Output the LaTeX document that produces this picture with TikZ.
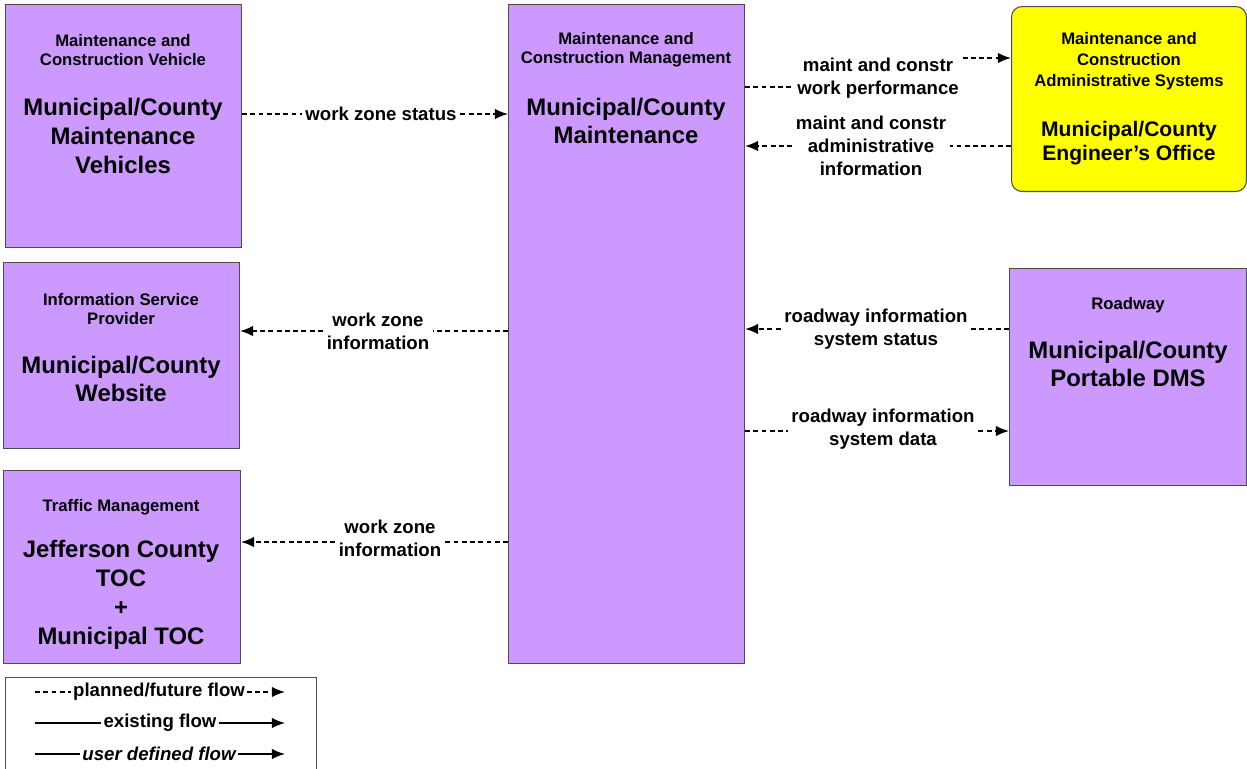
\documentclass[tikz,border=0pt]{standalone}
\usepackage{fontspec}
\setmainfont{Liberation Sans}
\usetikzlibrary{arrows.meta}
\definecolor{elempurple}{HTML}{CC99FF}
\definecolor{elemyellow}{HTML}{FFFF00}

\begin{document}
\begin{tikzpicture}[x=0.02cm, y=-0.02cm]

        % Page frame (pixel units, y downwards)
        \useasboundingbox (0,0) rectangle (1247,768);

        \tikzset{
            element/.style={draw=black!70, line width=0.6pt, fill=elempurple, anchor=north west, inner sep=0pt},
            hdr/.style={font=\fontsize{9.5}{10.9}\selectfont\bfseries, align=center},
            ttl/.style={font=\fontsize{13.6}{16.4}\selectfont\bfseries, align=center},
            flowlbl/.style={font=\fontsize{10.6}{13}\selectfont\bfseries, align=center, inner sep=2pt},
            planned/.style={line width=0.9pt, dash pattern=on 2.8pt off 1.9pt},
            existing/.style={line width=0.9pt},
            tip/.style={-{Latex[length=7.5pt, width=6pt]}}
        }

        % 1. Element boxes
        \node[element, minimum width=4.72cm, minimum height=4.86cm] (veh) at (5,4) {};
        \node[element, minimum width=4.72cm, minimum height=3.72cm] (isp) at (3,262) {};
        \node[element, minimum width=4.74cm, minimum height=3.86cm] (toc) at (3,470) {};
        \node[element, minimum width=4.72cm, minimum height=13.18cm] (mgmt) at (508,4) {};
        \node[element, fill=elemyellow, rounded corners=6pt, minimum width=4.70cm, minimum height=3.70cm] (eng) at (1011,6) {};
        \node[element, minimum width=4.74cm, minimum height=4.34cm] (road) at (1009,268) {};

        % 2. Box texts
        \node[hdr] (vehH) at (123,50) {Maintenance and\\Construction Vehicle};
        \node[ttl] (vehT) at (123,136) {Municipal/County\\Maintenance\\Vehicles};

        \node[hdr] (ispH) at (121,309) {Information Service\\Provider};
        \node[ttl] (ispT) at (121,379) {Municipal/County\\Website};

        \node[hdr] (tocH) at (121,507) {Traffic Management};
        \node[ttl] (tocT) at (121,595) {Jefferson County\\TOC\\+\\Municipal TOC};

        \node[hdr] (mgmtH) at (626,50) {Maintenance and\\Construction Management};
        \node[ttl] (mgmtT) at (626,121) {Municipal/County\\Maintenance};

        \node[hdr, font=\fontsize{9.5}{11.8}\selectfont\bfseries] (engH) at (1129,61) {Maintenance and\\Construction\\Administrative Systems};
        \node[ttl, font=\fontsize{12}{13.6}\selectfont\bfseries] (engT) at (1129,143) {Municipal/County\\Engineer’s Office};

        \node[hdr] (roadH) at (1128,305) {Roadway};
        \node[ttl] (roadT) at (1128,364) {Municipal/County\\Portable DMS};

        % 3. Flow labels
        \node[flowlbl] (wzs) at (381,114) {work zone status};
        \node[flowlbl] (perf) at (878,78) {maint and constr\\work performance};
        \node[flowlbl] (admin) at (871,146) {maint and constr\\administrative\\information};
        \node[flowlbl] (wziA) at (378,331) {work zone\\information};
        \node[flowlbl] (wziB) at (390,538) {work zone\\information};
        \node[flowlbl] (status) at (876,329) {roadway information\\system status};
        \node[flowlbl] (data) at (883,429) {roadway information\\system data};

        \coordinate (perfL) at (0,87);
        \coordinate (perfR) at (0,58);

        % 4. Flows (all planned)
        \draw[planned] (veh.east |- wzs) -- (wzs.west);
        \draw[planned, tip] (wzs.east) -- (mgmt.west |- wzs);

        \draw[planned] (mgmt.east |- perfL) -- (perf.west |- perfL);
        \draw[planned, tip] (perf.east |- perfR) -- (eng.west |- perfR);

        \draw[planned] (eng.west |- admin) -- (admin.east);
        \draw[planned, tip] (admin.west) -- (mgmt.east |- admin);

        \draw[planned] (mgmt.west |- wziA) -- (wziA.east);
        \draw[planned, tip] (wziA.west) -- (isp.east |- wziA);

        \draw[planned] (mgmt.west |- {0,542}) -- (wziB.east |- {0,542});
        \draw[planned, tip] (wziB.west |- {0,542}) -- (toc.east |- {0,542});

        \draw[planned] (road.west |- status) -- (status.east);
        \draw[planned, tip] (status.west) -- (mgmt.east |- status);

        \draw[planned] (mgmt.east |- {0,431}) -- (data.west |- {0,431});
        \draw[planned, tip] (data.east |- {0,431}) -- (road.west |- {0,431});

        % 5. Legend
        \node[element, fill=white, minimum width=6.22cm, minimum height=2cm] (legend) at (5,677) {};
        \coordinate (lgA) at (35,0);
        \coordinate (lgB) at (285,0);

        \node[flowlbl, inner sep=1pt] (lgPlan) at (159,692) {planned/future flow};
        \node[flowlbl, inner sep=1pt] (lgExist) at (160,723) {existing flow};
        \node[flowlbl, inner sep=1pt, font=\fontsize{10.6}{13}\selectfont\bfseries\itshape] (lgUser) at (159,754) {user defined flow};

        \draw[planned] (lgA |- lgPlan) -- (lgPlan.west);
        \draw[planned, tip] (lgPlan.east) -- (lgB |- lgPlan);
        \draw[existing] (lgA |- lgExist) -- (lgExist.west);
        \draw[existing, tip] (lgExist.east) -- (lgB |- lgExist);
        \draw[existing] (lgA |- lgUser) -- (lgUser.west);
        \draw[existing, tip] (lgUser.east) -- (lgB |- lgUser);

\end{tikzpicture}
\end{document}
